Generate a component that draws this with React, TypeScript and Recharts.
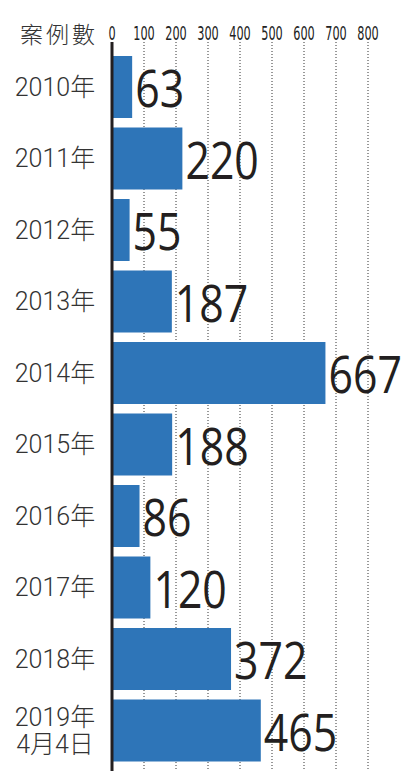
import { BarChart, Bar, XAxis, YAxis, CartesianGrid, LabelList } from 'recharts';

const years = ['2010年', '2011年', '2012年', '2013年', '2014年', '2015年', '2016年', '2017年', '2018年', '2019年\n4月4日'];
const cases = [63, 220, 55, 187, 667, 188, 86, 120, 372, 465];
const xTicks = [0, 100, 200, 300, 400, 500, 600, 700, 800];

const data = years.map((year, i) => ({ year, cases: cases[i] }));

const YearTick = ({ y, payload }: any) => {
    const lines = String(payload.value).split('\n');
    const start = y - ((lines.length - 1) * 27) / 2;
    return (
        <text
            x={55}
            y={start}
            textAnchor="middle"
            dominantBaseline="central"
            fontSize={25}
            fontWeight={300}
            fontFamily="Roboto, 'Noto Sans CJK TC', sans-serif"
            fill="#333"
        >
            {lines.map((line, i) => (
                <tspan key={i} x={55} dy={i === 0 ? 0 : 27}>{line}</tspan>
            ))}
        </text>
    );
};

// narrow tick numbers along the top
const ValueTick = ({ x, payload }: any) => (
    <g transform={`translate(${x},40) scale(0.66,1)`}>
        <text
            x={0}
            y={0}
            textAnchor="middle"
            fontSize={19}
            fontFamily="'Liberation Sans Narrow', 'DejaVu Sans Condensed', sans-serif"
            fill="#222"
        >
            {payload.value}
        </text>
    </g>
);

const BigLabel = ({ x, y, width, height, value }: any) => (
    <g transform={`translate(${x + width + 3},${y + height / 2 + 1}) scale(0.84,1)`}>
        <text
            x={0}
            y={0}
            dominantBaseline="central"
            fontSize={51}
            fontFamily="'Open Sans', sans-serif"
            fill="#231f20"
        >
            {value}
        </text>
    </g>
);

export default function App() {
    return (
        <div style={{ position: 'absolute', left: 0, top: 0, width: 405, height: 771, background: '#fff' }}>
            <div
                style={{
                    position: 'absolute',
                    left: 20,
                    top: 18,
                    fontSize: 23,
                    letterSpacing: 3,
                    lineHeight: '30px',
                    fontWeight: 300,
                    color: '#333',
                    fontFamily: "'Noto Sans CJK TC', sans-serif",
                }}
            >
                案例數
            </div>
            <BarChart
                width={405}
                height={771}
                data={data}
                layout="vertical"
                margin={{ top: 0, right: 37, bottom: 0, left: 0 }}
            >
                <CartesianGrid horizontal={false} stroke="#333" strokeDasharray="1 2" />
                <XAxis
                    type="number"
                    orientation="top"
                    domain={[0, 800]}
                    ticks={xTicks}
                    height={42}
                    axisLine={false}
                    tickLine={false}
                    tick={<ValueTick />}
                    interval={0}
                />
                <YAxis
                    type="category"
                    dataKey="year"
                    width={112}
                    padding={{ top: 9, bottom: 5 }}
                    axisLine={{ stroke: '#231f20', strokeWidth: 3 }}
                    tickLine={false}
                    tick={<YearTick />}
                    interval={0}
                />
                <Bar dataKey="cases" fill="#2e75b8" barSize={62} isAnimationActive={false}>
                    <LabelList dataKey="cases" content={<BigLabel />} />
                </Bar>
            </BarChart>
        </div>
    );
}
